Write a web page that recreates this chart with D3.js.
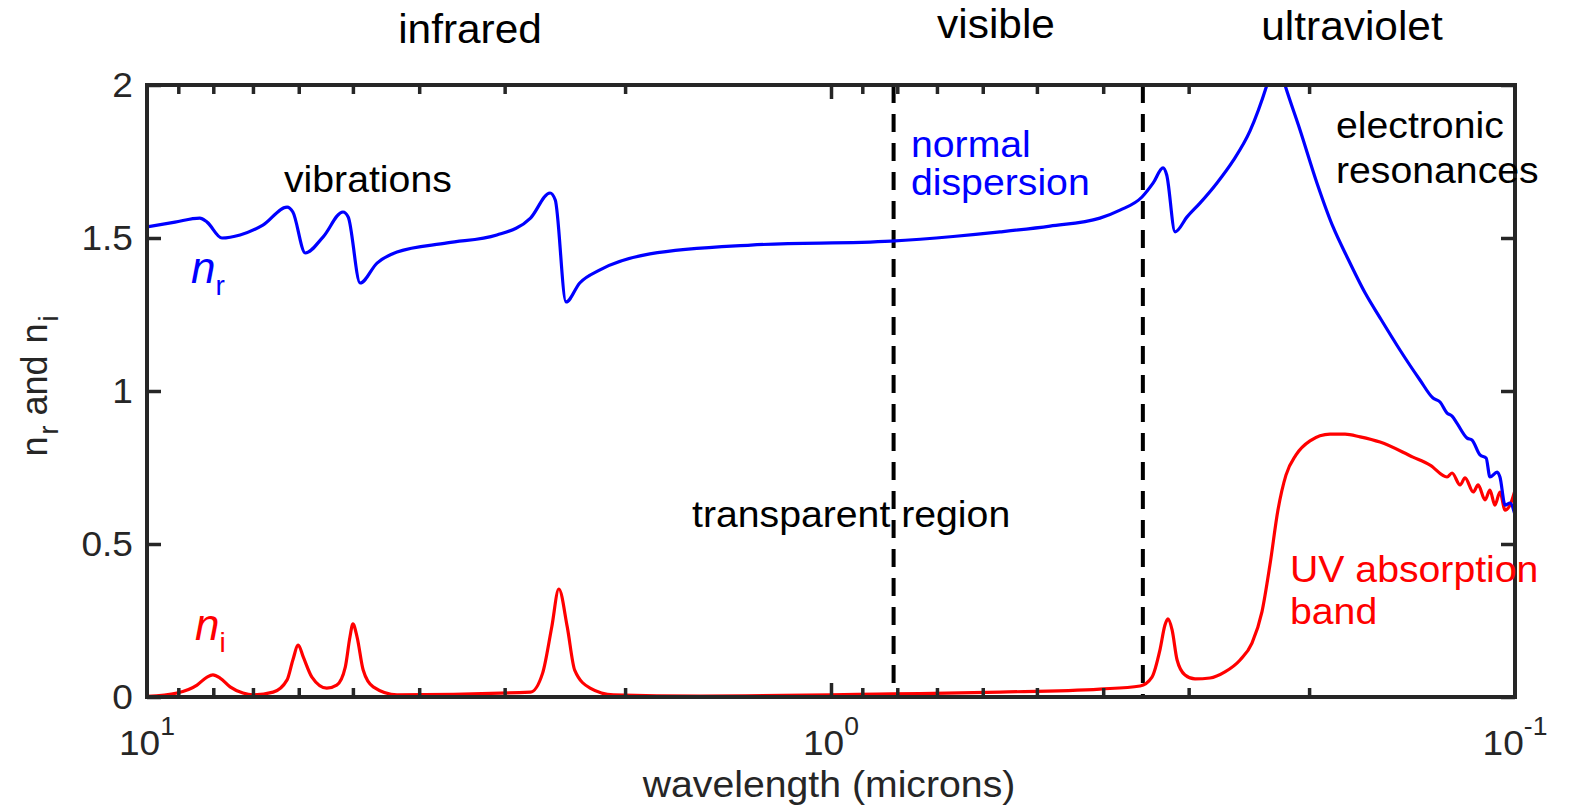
<!DOCTYPE html>
<html><head><meta charset="utf-8">
<script src="https://cdn.jsdelivr.net/npm/d3@7"></script>
<style>
html,body{margin:0;padding:0;background:#fff;}
text{font-family:"Liberation Sans",Arial,Helvetica,sans-serif;}
</style></head>
<body>
<svg id="c" width="1573" height="807"></svg>
<script>
// ---- data (wavelength in microns) ----
const wavelengthReal = [10, 9.10, 8.37, 8.17, 7.77, 7.31, 6.77, 6.24, 6.12, 5.87, 5.53, 5.17, 5.08, 4.88, 4.61, 4.31, 3.64, 3.08, 2.75, 2.575, 2.53, 2.44, 2.33, 2.18, 1.84, 1.31, 0.817, 0.663, 0.566, 0.4784, 0.4044, 0.378, 0.351, 0.338, 0.327, 0.323, 0.314, 0.3016, 0.2888, 0.2727, 0.2584, 0.244, 0.2305, 0.2236, 0.2169, 0.2062, 0.1948, 0.1845, 0.176, 0.1656, 0.1575, 0.1473, 0.1377, 0.1318, 0.1287, 0.1257, 0.1236, 0.1216, 0.1175, 0.1156, 0.1125, 0.1102, 0.1088, 0.1062, 0.1052, 0.1034, 0.1017, 0.100];
const nReal = [1.536, 1.552, 1.565, 1.552, 1.50, 1.51, 1.542, 1.601, 1.585, 1.451, 1.503, 1.585, 1.569, 1.353, 1.418, 1.454, 1.484, 1.51, 1.565, 1.647, 1.624, 1.291, 1.353, 1.395, 1.448, 1.477, 1.49, 1.505, 1.52, 1.539, 1.565, 1.591, 1.634, 1.68, 1.729, 1.706, 1.52, 1.569, 1.614, 1.68, 1.752, 1.850, 2.0, 2.1, 2.0, 1.853, 1.68, 1.536, 1.438, 1.320, 1.239, 1.134, 1.036, 0.977, 0.964, 0.928, 0.918, 0.895, 0.846, 0.840, 0.791, 0.781, 0.719, 0.735, 0.719, 0.627, 0.634, 0.595];
const wavelengthImag = [10, 9.04, 8.45, 8.17, 8.01, 7.82, 7.56, 7.24, 7.00, 6.54, 6.24, 6.12, 6.01, 5.91, 5.74, 5.46, 5.28, 5.13, 5.05, 5.00, 4.93, 4.83, 4.67, 4.31, 2.75, 2.64, 2.56, 2.50, 2.43, 2.37, 2.25, 2.08, 1.554, 0.817, 0.566, 0.4044, 0.3533, 0.3394, 0.3304, 0.3249, 0.3216, 0.3172, 0.3119, 0.3037, 0.2936, 0.2792, 0.2655, 0.2523, 0.2424, 0.2344, 0.2282, 0.2221, 0.2162, 0.2090, 0.1994, 0.1864, 0.1772, 0.1684, 0.1575, 0.1410, 0.1331, 0.1257, 0.1236, 0.1203, 0.1183, 0.1151, 0.1132, 0.1106, 0.1088, 0.1070, 0.1052, 0.1034, 0.1017, 0.100];
const nImag = [0.002, 0.013, 0.039, 0.065, 0.072, 0.062, 0.033, 0.013, 0.007, 0.016, 0.056, 0.121, 0.170, 0.131, 0.065, 0.029, 0.039, 0.098, 0.196, 0.239, 0.196, 0.088, 0.033, 0.007, 0.016, 0.078, 0.229, 0.353, 0.229, 0.088, 0.029, 0.007, 0.003, 0.010, 0.016, 0.026, 0.036, 0.065, 0.154, 0.235, 0.255, 0.219, 0.121, 0.072, 0.059, 0.062, 0.082, 0.121, 0.176, 0.278, 0.431, 0.611, 0.725, 0.791, 0.837, 0.859, 0.859, 0.850, 0.833, 0.784, 0.758, 0.719, 0.732, 0.693, 0.716, 0.670, 0.693, 0.644, 0.676, 0.627, 0.670, 0.611, 0.627, 0.676];
const dashedWavelengths = [0.81, 0.35];
const xMajorTicks = [10, 1, 0.1];
const xMajorLabels = [["10","1"], ["10","0"], ["10","-1"]];
const xMinorTicks = [9,8,7,6,5,4,3,2,0.9,0.8,0.7,0.6,0.5,0.4,0.3,0.2];
const yTicks = [0, 0.5, 1, 1.5, 2];
const yTickLabels = ["0", "0.5", "1", "1.5", "2"];
const regionLabels = ["infrared", "visible", "ultraviolet"];

// ---- layout ----
const L = 147, R = 1515, T = 85, B = 697;
const SX = 1.06;
const axisColor = "#262626";
const svg = d3.select("#c");
const x = d3.scaleLog().domain([10, 0.1]).range([L, R]);
const y = d3.scaleLinear().domain([0, 2]).range([B, T]);

svg.append("defs").append("clipPath").attr("id","clip")
  .append("rect").attr("x",L).attr("y",T).attr("width",R-L).attr("height",B-T);

// dashed lines
svg.selectAll(".dash").data(dashedWavelengths).enter().append("line")
  .attr("x1", d=>x(d)).attr("x2", d=>x(d)).attr("y1", y(2)).attr("y2", y(0))
  .attr("stroke","#000").attr("stroke-width",4).attr("stroke-dasharray","18,11");

const line = d3.line().x(d=>x(d[0])).y(d=>y(d[1])).curve(d3.curveMonotoneX);
const realData = wavelengthReal.map((w,i)=>[w,nReal[i]]);
const imagData = wavelengthImag.map((w,i)=>[w,nImag[i]]);
const g = svg.append("g").attr("clip-path","url(#clip)");
g.append("path").datum(imagData).attr("d",line).attr("fill","none").attr("stroke","#ff0000").attr("stroke-width",3.2).attr("stroke-linejoin","round");
g.append("path").datum(realData).attr("d",line).attr("fill","none").attr("stroke","#0000ff").attr("stroke-width",3.2).attr("stroke-linejoin","round");

// axes (ticks inward) using d3 axes
function styleAxis(sel){
  sel.select(".domain").remove();
  sel.selectAll(".tick line").attr("stroke",axisColor).attr("stroke-width",3.5);
  sel.selectAll(".tick text").remove();
}
svg.append("g").attr("transform",`translate(0,${B})`)
  .call(d3.axisBottom(x).tickValues(xMinorTicks).tickSize(-9).tickFormat("")).call(styleAxis);
svg.append("g").attr("transform",`translate(0,${T})`)
  .call(d3.axisTop(x).tickValues(xMinorTicks).tickSize(-9).tickFormat("")).call(styleAxis);
svg.append("g").attr("transform",`translate(0,${B})`)
  .call(d3.axisBottom(x).tickValues([1]).tickSize(-14).tickFormat("")).call(styleAxis);
svg.append("g").attr("transform",`translate(0,${T})`)
  .call(d3.axisTop(x).tickValues([1]).tickSize(-14).tickFormat("")).call(styleAxis);
svg.append("g").attr("transform",`translate(${L},0)`)
  .call(d3.axisLeft(y).tickValues(yTicks).tickSize(-14).tickFormat("")).call(styleAxis);
svg.append("g").attr("transform",`translate(${R},0)`)
  .call(d3.axisRight(y).tickValues(yTicks).tickSize(-14).tickFormat("")).call(styleAxis);

// box
svg.append("rect").attr("x",L).attr("y",T).attr("width",R-L).attr("height",B-T)
  .attr("fill","none").attr("stroke",axisColor).attr("stroke-width",4);

// stretched text helper
function stext(tx, ty, size, col, anchor){
  return svg.append("text").attr("transform",`translate(${tx},${ty}) scale(${SX},1)`)
    .attr("text-anchor",anchor||"start").attr("font-size",size).attr("fill",col);
}

// y tick labels
yTicks.forEach((v,i)=>{
  stext(133, y(v)+12, 35, axisColor, "end").text(yTickLabels[i]);
});

// x tick labels
xMajorTicks.forEach((v,i)=>{
  const t = stext(x(v), 755, 35, axisColor, "middle");
  t.append("tspan").text(xMajorLabels[i][0]);
  t.append("tspan").attr("dy",-20).attr("font-size",25).text(xMajorLabels[i][1]);
});

// axis titles
stext(829, 797, 37, axisColor, "middle").text("wavelength (microns)");
const yl = svg.append("text").attr("transform","translate(47,386) rotate(-90)")
  .attr("text-anchor","middle").attr("font-size",36).attr("fill",axisColor);
yl.append("tspan").text("n");
yl.append("tspan").attr("dy",11).attr("dx",2).attr("font-size",27).text("r");
yl.append("tspan").attr("dy",-11).attr("dx",10).text("and");
yl.append("tspan").attr("dx",12).text("n");
yl.append("tspan").attr("dy",11).attr("dx",2).attr("font-size",27).text("i");

// region labels
const regionX = [470, 996, 1352];
const regionY = [43, 38, 40];
regionLabels.forEach((s,i)=>{
  stext(regionX[i], regionY[i], 40, "#000", "middle").text(s);
});

// annotations
function ann(tx, ty, s, col){ stext(tx, ty, 37, col).text(s); }
ann(284, 192, "vibrations", "#000");
ann(911, 157, "normal", "#0000ff");
ann(911, 195, "dispersion", "#0000ff");
ann(1336, 138, "electronic", "#000");
ann(1336, 183, "resonances", "#000");
ann(692, 527, "transparent region", "#000");
ann(1290, 582, "UV absorption", "#ff0000");
ann(1290, 624, "band", "#ff0000");

function nlabel(tx, ty, sub, col){
  const t = svg.append("text").attr("x",tx).attr("y",ty).attr("fill",col).attr("font-size",44);
  t.append("tspan").attr("font-style","italic").text("n");
  t.append("tspan").attr("dy",12).attr("font-size",28).text(sub);
}
nlabel(191, 283, "r", "#0000ff");
nlabel(195, 640, "i", "#ff0000");
</script>
</body></html>
